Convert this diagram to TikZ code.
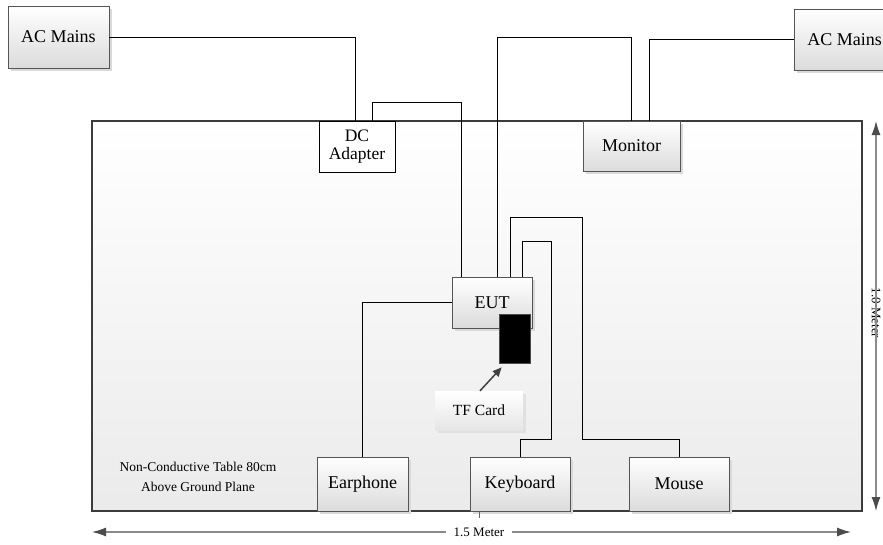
\documentclass[tikz,border=0pt]{standalone}
\usepackage{fontspec}
\setmainfont{Liberation Serif}
\usetikzlibrary{shadows,arrows.meta}
\definecolor{boxline}{HTML}{555555}
\definecolor{tableline}{HTML}{3C3C3C}
\definecolor{dimline}{HTML}{8A8A8A}
\tikzset{
  unitbox/.style={draw=boxline, line width=0.9pt, top color=white, bottom color=black!14,
    drop shadow={shadow xshift=3pt, shadow yshift=-3pt, fill=black!15, opacity=1},
    font=\fontsize{18}{20}\selectfont, inner sep=0pt, align=center},
  plainbox/.style={draw=black, line width=0.8pt, fill=white, inner sep=0pt, align=center,
    font=\fontsize{17.5}{19}\selectfont},
  wire/.style={draw=black, line width=0.8pt},
  dimarrow/.style={draw=dimline, line width=1.3pt, -{Latex[length=14pt,width=9pt,color=black!70]}},
}
\begin{document}
\begin{tikzpicture}[x=1pt,y=-1pt]
\useasboundingbox (0,0) rectangle (883,544);
% table
\node[draw=tableline, line width=2.6pt, top color=white, bottom color=black!8,
      minimum width=770, minimum height=390, inner sep=0pt] (table) at (477,316) {};
% boxes
\node[unitbox, minimum width=101, minimum height=62] (acL) at (58.5,37) {AC Mains};
\node[unitbox, minimum width=101, minimum height=61] (acR) at (844.5,39.5) {AC Mains};
\node[plainbox, minimum width=76, minimum height=51] (dc) at (357,146.5) {DC\\[-1pt]Adapter};
\node[unitbox, minimum width=97, minimum height=50] (mon) at (631.5,146) {Monitor};
\node[unitbox, minimum width=80, minimum height=51] (eut) at (492,302.5) {EUT};
\node[draw=black!70, fill=black, line width=0.8pt, minimum width=31, minimum height=49, inner sep=0pt] (tf) at (514.5,338.5) {};
\node[top color=white, bottom color=black!10, drop shadow={shadow xshift=3pt, shadow yshift=-3pt, fill=black!12, opacity=1},
      minimum width=88, minimum height=39, inner sep=0pt, font=\fontsize{15.5}{18}\selectfont] (tfl) at (479,410.5) {TF Card};
\node[unitbox, minimum width=91, minimum height=54] (ear) at (362.5,484) {Earphone};
\node[unitbox, minimum width=100, minimum height=54] (kb) at (520,484) {Keyboard};
\node[unitbox, minimum width=100, minimum height=54] (mouse) at (679,484) {Mouse};
\node[align=center, font=\fontsize{13.5}{20}\selectfont] (note) at (198,477) {Non-Conductive Table 80cm\\Above Ground Plane};
% connectors
\draw[wire] (acL.east) -| ([xshift=-2]dc.north);
\draw[wire] ([xshift=15]dc.north) -- ([xshift=15]dc.north |- 0,102) -| ([xshift=-31]eut.north);
\draw[wire] ([xshift=5]eut.north) -- ([xshift=5]eut.north |- 0,37) -| (mon.north);
\draw[wire] (acR.west) -| ([xshift=17.5]mon.north);
\draw[wire] ([xshift=18]eut.north) |- (582,217) -- (582,439) -| (mouse.north);
\draw[wire] ([xshift=30]eut.north) |- (551,241) -- (551,439) -| (kb.north);
\draw[wire] (eut.west) -| (ear.north);
\draw[draw=black!75, line width=1.5pt, -{Triangle[length=9pt,width=8pt]}] ([xshift=1]tfl.north) -- ([xshift=3,yshift=-4]tf.south west);
% dimensions
\node[font=\fontsize{13}{15}\selectfont, inner sep=0pt] (dimB) at (479,532) {1.5 Meter};
\coordinate (bL) at (92,532);
\coordinate (bR) at (851,532);
\draw[dimarrow] ([xshift=-8]dimB.west) -- (bL);
\draw[dimarrow] ([xshift=8]dimB.east) -- (bR);
\draw[draw=black!60, line width=0.8pt] (table.south -| dimB) -- ++(0,6);
\node[font=\fontsize{13}{15}\selectfont, inner sep=0pt, rotate=-90] (dimR) at (876,313) {1.0 Meter};
\coordinate (rT) at (876,121);
\coordinate (rB) at (876,511);
\draw[dimarrow] ([yshift=6]dimR.east) -- (rT);
\draw[dimarrow] ([yshift=-6]dimR.west) -- (rB);
\end{tikzpicture}
\end{document}
